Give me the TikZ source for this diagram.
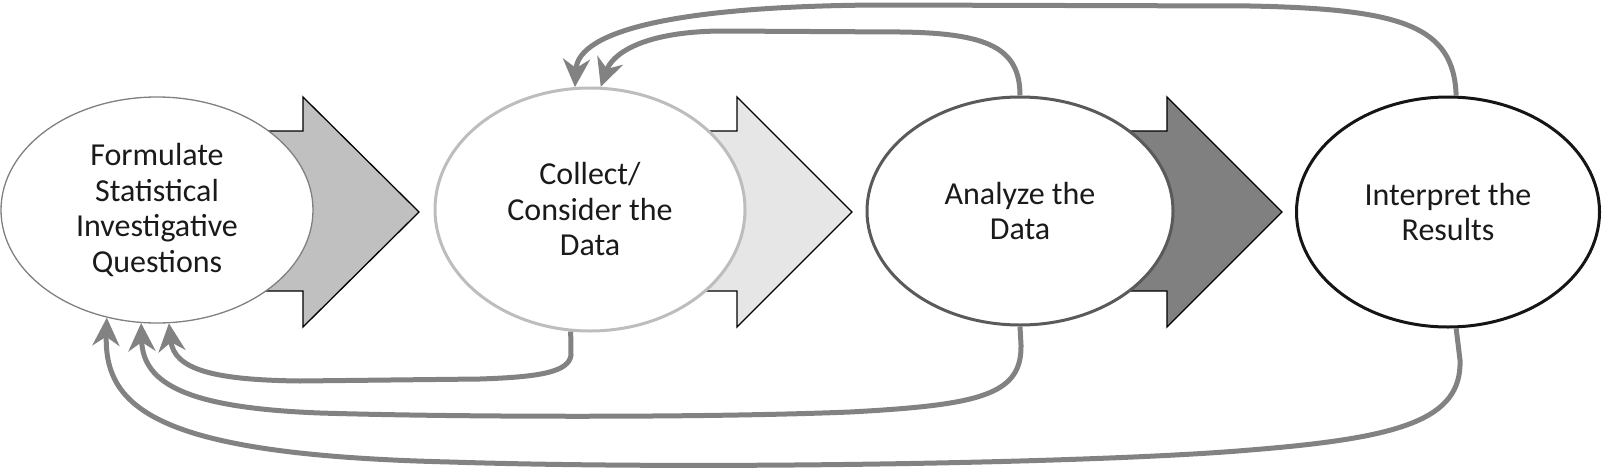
\documentclass[tikz,border=0pt]{standalone}
\usepackage{fontspec}
\setmainfont{Carlito}
\usetikzlibrary{shapes.geometric,arrows.meta}
\definecolor{conncol}{HTML}{828282}
\definecolor{fillA}{HTML}{C0C0C0}
\definecolor{fillB}{HTML}{E6E6E6}
\definecolor{fillC}{HTML}{808080}
\definecolor{rimA}{HTML}{808080}
\definecolor{rimB}{HTML}{BDBDBD}
\definecolor{rimC}{HTML}{5A5A5A}
\definecolor{rimD}{HTML}{151515}
\definecolor{txt}{HTML}{1A1A1A}
\begin{document}
\begin{tikzpicture}[x=1pt,y=-1pt,
  stage/.style={ellipse,fill=white,inner sep=0pt,align=center,
    font=\fontsize{32}{35.5}\selectfont,text=txt},
  chevron/.style={draw=black,line width=1.3pt,line join=miter},
  conn/.style={draw=conncol,line width=5pt,
    -{Stealth[length=28pt,width=27pt,inset=9pt]}}]
\useasboundingbox (0,0) rectangle (1602,471);
% block arrows
\draw[chevron,fill=fillA] (200,131) -- (303,131) -- (303,97) -- (419,212) -- (303,327) -- (303,291) -- (200,291) -- cycle;
\draw[chevron,fill=fillB] (620,131) -- (737,131) -- (737,97) -- (852,212) -- (737,327) -- (737,291) -- (620,291) -- cycle;
\draw[chevron,fill=fillC] (1050,131) -- (1167,131) -- (1167,97) -- (1282,212) -- (1167,327) -- (1167,291) -- (1050,291) -- cycle;
% stages
\node[stage,draw=rimA,line width=1.3pt,minimum width=312pt,minimum height=226pt] (e1) at (157,210)
  {Formulate\\Statistical\\Investigative\\Questions};
\node[stage,draw=rimB,line width=3pt,minimum width=310pt,minimum height=243pt] (e2) at (590,209.5)
  {Collect/\\Consider the\\Data};
\node[stage,draw=rimC,line width=3pt,minimum width=306pt,minimum height=228pt] (e3) at (1020,211)
  {Analyze the\\Data};
\node[stage,draw=rimD,line width=3pt,minimum width=303pt,minimum height=230pt] (e4) at (1448,212)
  {Interpret the\\Results};
% feedback connectors (top)
\draw[conn] (e3.90) .. controls (1020,48) and (988,33) .. (900,32) -- (720,31)
  .. controls (640,32) and (612,55) .. (e2.85.3);
\draw[conn] (e4.86.5) .. controls (1454,25) and (1400,9) .. (1250,6) -- (880,5)
  .. controls (680,6) and (578,30) .. (e2.97.6);
% feedback connectors (bottom)
\draw[conn] (e2.261.5) -- (571,355) .. controls (569,372) and (540,377) .. (480,379) -- (300,381)
  .. controls (215,380) and (174,370) .. (e1.276.6);
\draw[conn] (e3.270) -- (1021,345) .. controls (1022,395) and (980,405) .. (850,412)
  .. controls (700,418) and (450,417) .. (320,413)
  .. controls (190,408) and (143,385) .. (e1.262.9);
\draw[conn] (e4.274.5) -- (1460,360) .. controls (1462,420) and (1400,438) .. (1250,450)
  .. controls (1100,463) and (700,470) .. (450,462)
  .. controls (160,455) and (104,410) .. (e1.245);
\end{tikzpicture}
\end{document}
